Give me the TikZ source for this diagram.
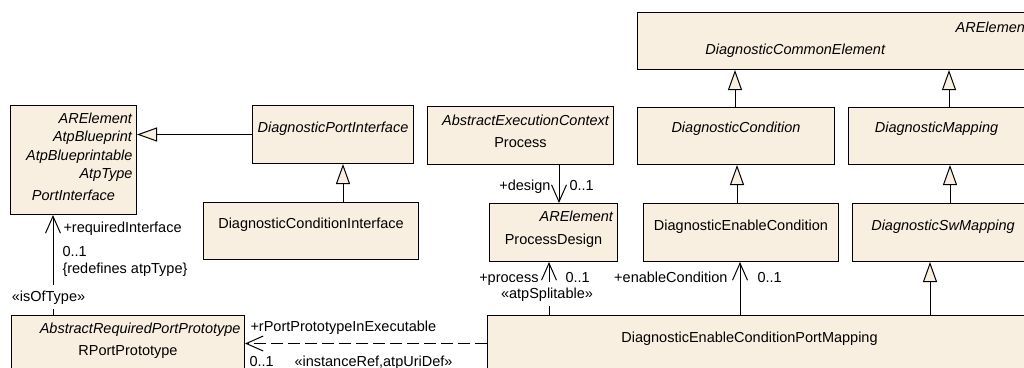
\documentclass[tikz,border=0pt]{standalone}
\usepackage{fontspec}
\setmainfont{Liberation Sans}
\usetikzlibrary{arrows.meta,positioning}
\definecolor{cream}{HTML}{F9EFE1}
\newcommand{\stereo}[1]{\hspace*{0pt plus 1fill}\textit{#1}\hspace*{4pt}\mbox{}}

\begin{document}
\begin{tikzpicture}[x=1pt, y=-1pt, line width=1pt,
  cls/.style={rectangle, draw, fill=cream, inner sep=0pt, anchor=north west, align=center, font=\fontsize{14.5}{18.3}\selectfont},
  lbl/.style={inner sep=0pt, font=\fontsize{14.5}{17}\selectfont},
  gen/.style={-{Triangle[open, length=20pt, width=14pt, fill=cream]}},
  assoc/.style={-{Straight Barb[length=17pt, width=15pt]}}
]
\path[use as bounding box, clip] (0,0) rectangle (1024,367);

% classes
\node[cls, text width=126pt, text height=18pt, text depth=91pt] (pif) at (10,105) {\stereo{ARElement}\\ \stereo{AtpBlueprint}\\ \stereo{AtpBlueprintable}\\ \stereo{AtpType}\\[3.4pt] \textit{PortInterface}};
\node[cls, text width=161pt, text height=26.5pt, text depth=31.5pt] (dpi) at (252,105) {\textit{DiagnosticPortInterface}};
\node[cls, text width=215pt, text height=26pt, text depth=31pt] (dci) at (203,202) {DiagnosticConditionInterface};
\node[cls, text width=186pt, text height=19pt, text depth=39pt] (proc) at (427,106) {\stereo{AbstractExecutionContext}\\[3.4pt] Process};
\node[cls, text width=128pt, text height=18pt, text depth=40pt] (pd) at (489,203) {\stereo{ARElement}\\[4.6pt] ProcessDesign};
\node[cls, text width=396pt, text height=20pt, text depth=37pt] (dce) at (637,12) {\stereo{ARElement}\\[3.4pt] \hspace*{-80pt}\textit{DiagnosticCommonElement}};
\node[cls, text width=197pt, text height=25pt, text depth=32pt] (dc) at (637,107) {\textit{DiagnosticCondition}};
\node[cls, text width=185pt, text height=25pt, text depth=32pt] (dmap) at (848,107) {\hspace*{-9pt}\textit{DiagnosticMapping}};
\node[cls, text width=195pt, text height=27pt, text depth=31pt] (dec) at (643,203) {DiagnosticEnableCondition};
\node[cls, text width=181pt, text height=27pt, text depth=31pt] (dsw) at (852,203) {\textit{DiagnosticSwMapping}};
\node[cls, text width=546pt, text height=26.7pt, text depth=43.3pt] (pmap) at (487,315) {\hspace*{-22pt}DiagnosticEnableConditionPortMapping};
\node[cls, text width=233pt, text height=18pt, text depth=52pt] (rpp) at (11,315) {\stereo{AbstractRequiredPortPrototype}\\[3.2pt] RPortPrototype};

% generalizations
\draw[gen] (dpi.west) -- (pif.east |- dpi.west);
\draw[gen] ([xshift=140pt]dci.north west) -- ([xshift=91pt]dpi.south west);
\draw[gen] ([xshift=98pt]dc.north west) -- ([xshift=98pt]dce.south west);
\draw[gen] ([xshift=94pt]dec.north west) -- ([xshift=100pt]dc.south west);
\draw[gen] ([xshift=101pt]dmap.north west) -- ([xshift=312pt]dce.south west);
\draw[gen] ([xshift=98pt]dsw.north west) -- ([xshift=102pt]dmap.south west);
\draw[gen] ([xshift=443pt]pmap.north west) -- ([xshift=78pt]dsw.south west);

% associations
\draw[assoc] ([xshift=132pt]proc.south west) -- ([xshift=70pt]pd.north west)
  node[lbl, at end, anchor=base east, xshift=-8pt, yshift=12.5pt] {+design}
  node[lbl, at end, anchor=base west, xshift=10pt, yshift=12.5pt] {0..1};
\draw[assoc] ([xshift=62pt]pmap.north west) -- ([xshift=60pt]pd.south west)
  node[lbl, at end, anchor=base east, xshift=-10pt, yshift=-20pt] {+process}
  node[lbl, at end, anchor=base west, xshift=16pt, yshift=-20pt] {0..1}
  node[lbl, at start, anchor=base, fill=white, inner xsep=1pt, inner ysep=5pt, xshift=-2pt, yshift=17pt] {«atpSplitable»};
\draw[assoc] ([xshift=253pt]pmap.north west) -- ([xshift=97pt]dec.south west)
  node[lbl, at end, anchor=base east, xshift=-12pt, yshift=-20pt] {+enableCondition}
  node[lbl, at end, anchor=base west, xshift=17pt, yshift=-20pt] {0..1};
\draw[assoc, dash pattern=on 12pt off 5pt] ([yshift=7pt]pmap.west) -- ([yshift=7pt]rpp.east)
  node[lbl, at end, anchor=base west, xshift=5pt, yshift=12pt] {+rPortPrototypeInExecutable}
  node[lbl, at end, anchor=base west, xshift=4pt, yshift=-23pt] {0..1}
  node[lbl, at end, anchor=base west, xshift=49pt, yshift=-23pt] {«instanceRef,atpUriDef»};
\draw[assoc] ([xshift=42pt]rpp.north west) -- ([xshift=43pt]pif.south west)
  node[lbl, at end, anchor=base west, xshift=10pt, yshift=-17pt] {+requiredInterface}
  node[lbl, at end, anchor=base west, xshift=9pt, yshift=-41.5pt] {0..1}
  node[lbl, at end, anchor=base west, xshift=9pt, yshift=-58pt] {\{redefines atpType\}}
  node[lbl, at start, anchor=base, fill=white, inner xsep=1pt, inner ysep=5pt, xshift=-4.5pt, yshift=14pt] {«isOfType»};
\end{tikzpicture}
\end{document}
